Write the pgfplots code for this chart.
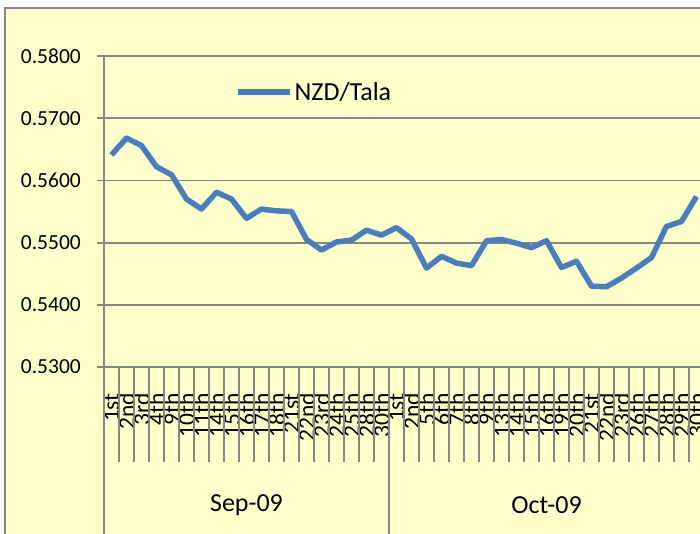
\documentclass[border=0pt]{standalone}
\usepackage{pgfplots}
\usepackage{pgfplotstable}
\pgfplotsset{compat=1.18}
\usepackage{fontspec}
\setmainfont{Carlito}
\definecolor{bgyellow}{RGB}{255,255,204}
\definecolor{linegray}{RGB}{134,134,134}
\definecolor{nzdblue}{RGB}{74,126,187}

% NZD/Tala daily rates, Sep-09 (19 days) then Oct-09 (21 days)
\pgfplotstableread{
v
0.5641
0.5668
0.5656
0.5622
0.5609
0.5570
0.5554
0.5581
0.5570
0.5539
0.5554
0.5551
0.5550
0.5505
0.5488
0.5501
0.5504
0.5520
0.5512
0.5524
0.5506
0.5459
0.5478
0.5467
0.5463
0.5503
0.5505
0.5499
0.5492
0.5503
0.5460
0.5470
0.5430
0.5429
0.5443
0.5459
0.5476
0.5526
0.5534
0.5574
}\rates

\begin{document}
\begin{tikzpicture}
\path[use as bounding box] (-104pt,-166pt) rectangle (596pt,367pt);
\clip (-104pt,-166pt) rectangle (596pt,367pt);
\fill[white] (-104pt,-166pt) rectangle (596pt,367pt);
\filldraw[fill=bgyellow, draw=linegray, line width=1.8pt] (-99pt,-220pt) rectangle (680pt,359pt);
\begin{axis}[
  scale only axis, width=600pt, height=311pt,
  xmin=-0.5, xmax=39.5, ymin=0.53, ymax=0.58,
  axis x line*=bottom, axis y line*=left,
  axis line style={linegray, line width=1.8pt},
  clip=false,
  ytick={0.53,0.54,0.55,0.56,0.57,0.58},
  yticklabel={\pgfmathprintnumber[fixed,fixed zerofill,precision=4]{\tick}},
  /pgf/number format/assume math mode=true,
  ytick align=outside, major tick length=7pt,
  y tick style={linegray, line width=1.8pt},
  yticklabel style={anchor=east, inner sep=0pt, xshift=-16pt, font=\fontsize{21.5}{21.5}\selectfont},
  ymajorgrids, major grid style={linegray, line width=1.8pt},
  xtick={0,...,39},
  xticklabels={1st,2nd,3rd,4th,9th,10th,11th,14th,15th,16th,17th,18th,21st,22nd,23rd,24th,25th,28th,30th,
    1st,2nd,5th,6th,7th,8th,9th,13th,14th,15th,16th,19th,20th,21st,22nd,23rd,26th,27th,28th,29th,30th},
  x tick style={draw=none},
  xticklabel style={yshift=-26pt, rotate=90, anchor=east, inner sep=0pt, font=\fontsize{23.5}{23.5}\selectfont},
  legend style={at={(axis description cs:0.2183,0.884)}, anchor=west, draw=none, fill=none,
    inner sep=0pt, font=\fontsize{26}{26}\selectfont},
  legend image code/.code={\draw[#1] (0pt,0pt) -- (52pt,0pt);},
]
\pgfplotsinvokeforeach{0,...,40}{
  \draw[linegray, line width=1.8pt] (axis cs:#1-0.5,0.53) -- ++(0pt,-95pt);
}
\draw[linegray, line width=1.8pt] (axis cs:-0.5,0.53) -- ++(0pt,-200pt);
\draw[linegray, line width=1.8pt] (axis cs:18.5,0.53) -- ++(0pt,-200pt);
\draw[linegray, line width=1.8pt] (axis cs:39.5,0.53) -- ++(0pt,-200pt);
\node[font=\fontsize{26}{26}\selectfont] at ([yshift=-138pt]axis cs:9,0.53) {Sep-09};
\node[font=\fontsize{26}{26}\selectfont] at ([yshift=-138pt]axis cs:29,0.53) {Oct-09};
\addplot[nzdblue, line width=5.5pt, line join=round, mark=none]
  table[x expr=\coordindex, y=v] {\rates};
\addlegendentry{NZD/Tala}
\end{axis}
\end{tikzpicture}
\end{document}
